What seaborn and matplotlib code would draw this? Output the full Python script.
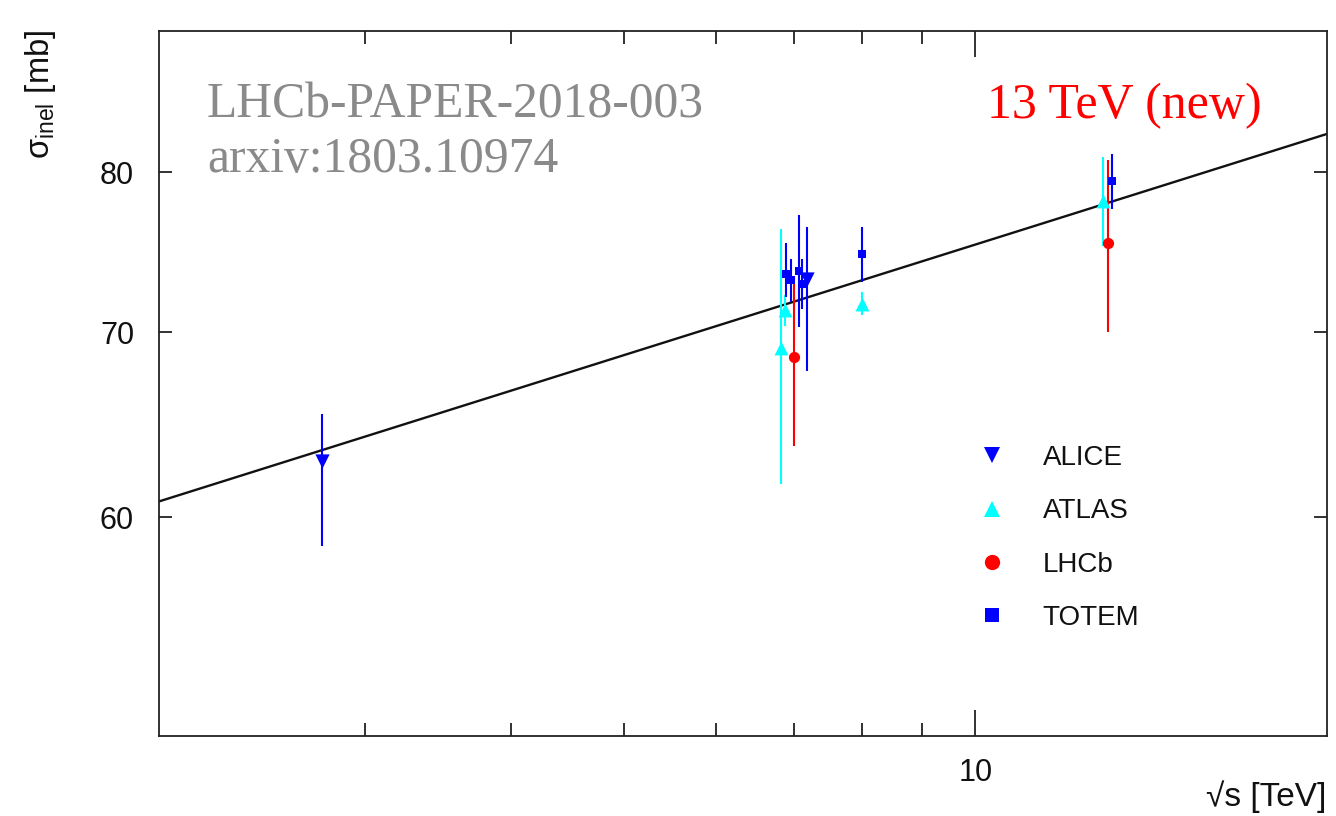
import numpy as np
import pandas as pd
import matplotlib
matplotlib.use("Agg")
import matplotlib.pyplot as plt
from matplotlib.lines import Line2D
from matplotlib.ticker import FixedLocator, NullLocator, FixedFormatter, NullFormatter
import seaborn as sns

# ---------------- data ----------------
alice_x = [2.76, 7.17]
alice_y = [62.9, 73.2]
alice_lo = [4.3, 5.4]
alice_hi = [2.5, 3.2]

atlas_x = [6.81, 6.87, 8.0, 12.86]
atlas_y = [69.1, 71.3, 71.7, 78.1]
atlas_lo = [7.4, 0.9, 0.7, 2.9]
atlas_hi = [7.2, 0.9, 0.7, 2.9]

lhcb_x = [6.99, 12.99]
lhcb_y = [68.6, 75.4]
lhcb_lo = [4.9, 5.4]
lhcb_hi = [4.8, 5.4]

totem_x = [6.88, 6.95, 7.06, 7.11, 8.0, 13.09]
totem_y = [73.5, 73.1, 73.7, 72.9, 74.7, 79.4]
totem_lo = [1.4, 1.3, 3.4, 1.5, 1.7, 1.8]
totem_hi = [1.9, 1.3, 3.5, 1.5, 1.7, 1.8]

fit_x = [2.0, 20.0]
fit_y = [60.8, 82.6]

experiments = ["ALICE", "ATLAS", "LHCb", "TOTEM"]
x_ticks = [10]
x_tick_labels = ["10"]
x_minor = [3, 4, 5, 6, 7, 8, 9]
y_ticks = [60, 70, 80]
y_tick_labels = ["60", "70", "80"]

# ---------------- styling ----------------
sns.set_theme(style="ticks")
plt.rcParams["font.family"] = ["Liberation Sans", "DejaVu Sans"]
plt.rcParams["mathtext.fontset"] = "custom"
plt.rcParams["mathtext.rm"] = "Liberation Sans"
plt.rcParams["mathtext.it"] = "Liberation Sans:italic"

colors = {"ALICE": "#0000ff", "ATLAS": "#00ffff", "LHCb": "#ff0000", "TOTEM": "#0000ff"}
markers = {"ALICE": "v", "ATLAS": "^", "LHCb": "o", "TOTEM": "s"}
msizes = {"ALICE": 105, "ATLAS": 100, "LHCb": 65, "TOTEM": 36}

frames = []
for name, xs, ys, lo, hi in [
    ("ALICE", alice_x, alice_y, alice_lo, alice_hi),
    ("ATLAS", atlas_x, atlas_y, atlas_lo, atlas_hi),
    ("LHCb", lhcb_x, lhcb_y, lhcb_lo, lhcb_hi),
    ("TOTEM", totem_x, totem_y, totem_lo, totem_hi),
]:
    frames.append(pd.DataFrame({"sqrt_s": xs, "sigma": ys, "lo": lo, "hi": hi, "exp": name}))
df = pd.concat(frames, ignore_index=True)
fit_df = pd.DataFrame({"sqrt_s": fit_x, "sigma": fit_y})

W, H = 1336, 816
fig = plt.figure(figsize=(W / 100, H / 100), dpi=100)
fig.patch.set_facecolor("white")
ax = fig.add_axes([159 / W, 1 - 736 / H, (1327 - 159) / W, (736 - 31) / H])
ax.set_xscale("log")
ax.set_yscale("log")

# fit line
sns.lineplot(data=fit_df, x="sqrt_s", y="sigma", ax=ax, color="#111111", lw=1.7, zorder=2)

# error bars then markers
for name in experiments:
    sub = df[df["exp"] == name]
    ax.errorbar(sub["sqrt_s"], sub["sigma"], yerr=[sub["lo"], sub["hi"]], fmt="none",
                ecolor=colors[name], elinewidth=1.5, capsize=0, zorder=3)
    sns.scatterplot(data=sub, x="sqrt_s", y="sigma", ax=ax, color=colors[name],
                    marker=markers[name], s=msizes[name], linewidth=0, zorder=4, legend=False)

ax.set_xlim(2, 20)
ax.set_ylim(50, 90)

ax.xaxis.set_major_locator(FixedLocator(x_ticks))
ax.xaxis.set_major_formatter(FixedFormatter(x_tick_labels))
ax.xaxis.set_minor_locator(FixedLocator(x_minor))
ax.xaxis.set_minor_formatter(NullFormatter())
ax.yaxis.set_major_locator(FixedLocator(y_ticks))
ax.yaxis.set_major_formatter(FixedFormatter(y_tick_labels))
ax.yaxis.set_minor_locator(NullLocator())

ax.tick_params(which="both", direction="in", top=True, right=True, colors="#222222",
               labelcolor="#111111", width=1.3)
ax.tick_params(axis="x", which="major", length=18.5, pad=16, labelsize=22)
ax.tick_params(axis="x", which="minor", length=9.3)
ax.tick_params(axis="y", which="major", length=9.3, pad=18, labelsize=22)
for sp in ax.spines.values():
    sp.set_color("#222222")
    sp.set_linewidth(1.3)
ax.set_xlabel("")
ax.set_ylabel("")

# axis titles
fig.text(41 / W, 1 - 30 / H, r"σ$_{\mathrm{inel}}$ [mb]", rotation=90, ha="center", va="top",
         fontsize=23.5, color="#111111")
fig.text(1326 / W, 1 - 806 / H, "√s [TeV]", ha="right", va="baseline", fontsize=24,
         color="#111111")

# annotations
serif = ["Liberation Serif", "DejaVu Serif"]
fig.text(207 / W, 1 - 118 / H, "LHCb-PAPER-2018-003", ha="left", va="baseline",
         fontsize=35.7, color="#8a8a8a", family=serif)
fig.text(207 / W, 1 - 172 / H, "arxiv:1803.10974", ha="left", va="baseline",
         fontsize=35.7, color="#8a8a8a", family=serif)
fig.text(1262 / W, 1 - 118 / H, "13 TeV (new)", ha="right", va="baseline",
         fontsize=35.9, color="#ff0000", family=serif)

# legend
handles = [Line2D([], [], ls="none", marker=markers[n], color=colors[n],
                  markersize=(11 if n != "TOTEM" else 9.5), markeredgewidth=0) for n in experiments]
leg = ax.legend(handles, experiments, loc="upper left",
                bbox_to_anchor=(980 / W, 1 - 445 / H), bbox_transform=fig.transFigure,
                frameon=False, fontsize=20, handlelength=0.9, handletextpad=1.35,
                labelspacing=0.985, borderpad=0, borderaxespad=0)
for t in leg.get_texts():
    t.set_color("#111111")

fig.savefig("out.png", dpi=100, facecolor="white")
